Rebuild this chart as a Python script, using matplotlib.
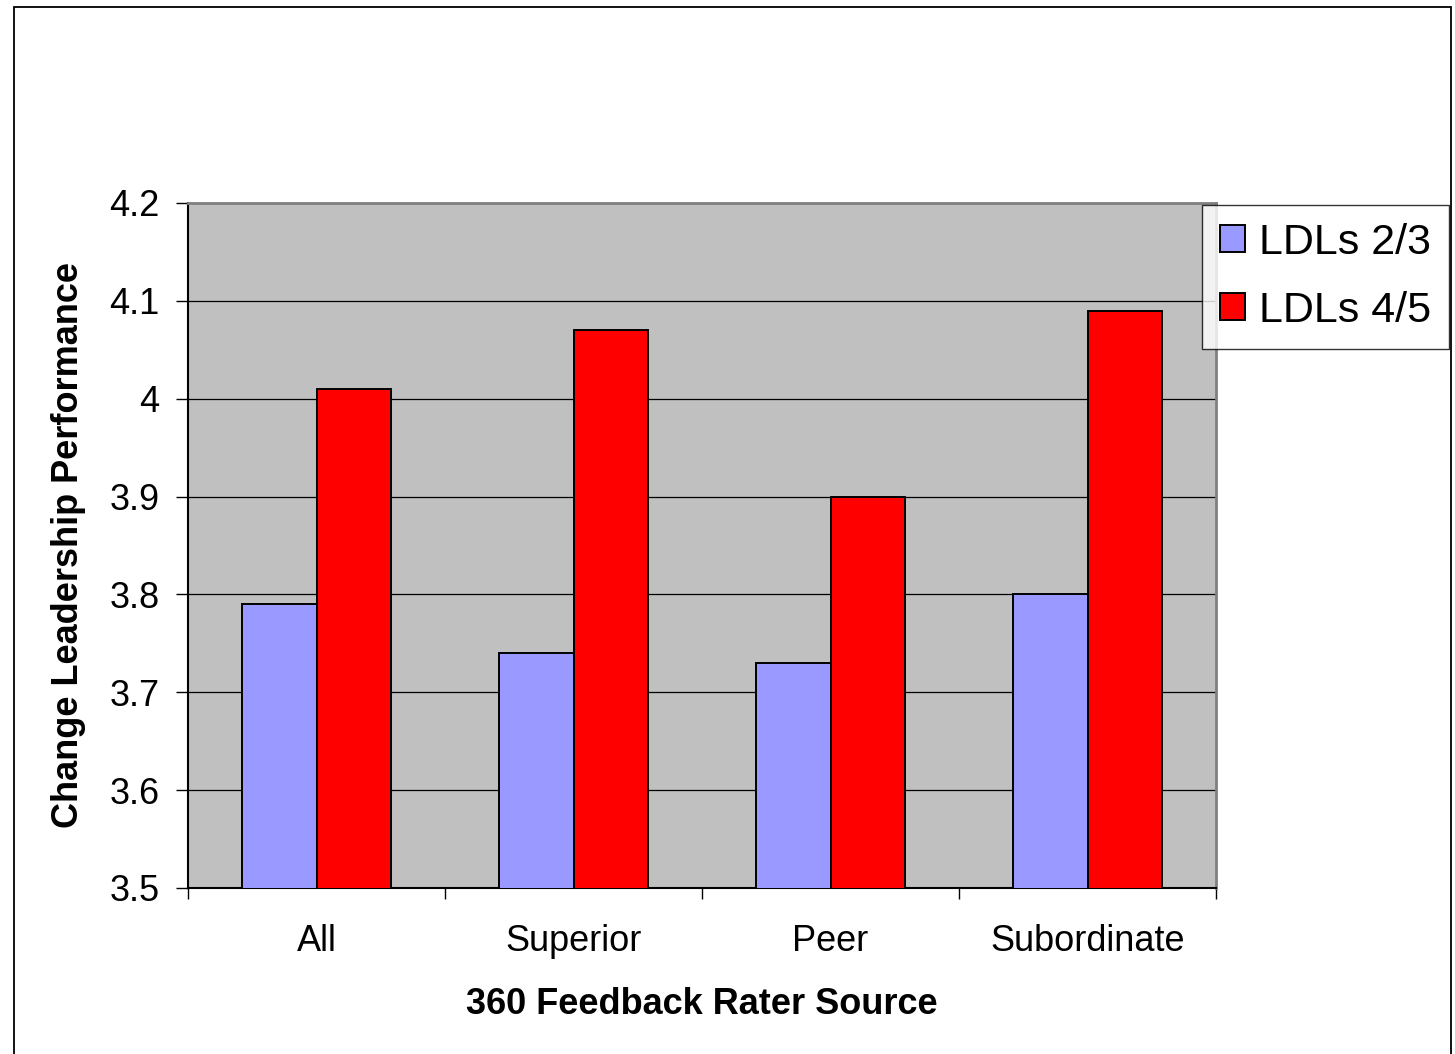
import matplotlib
matplotlib.use("Agg")
import matplotlib.pyplot as plt
from matplotlib.patches import Rectangle
import numpy as np

plt.rcParams['font.family'] = ['Liberation Sans', 'DejaVu Sans']

categories = ["All", "Superior", "Peer", "Subordinate"]
series_names = ["LDLs 2/3", "LDLs 4/5"]
ldl_23 = [3.79, 3.74, 3.73, 3.80]
ldl_45 = [4.01, 4.07, 3.90, 4.09]
y_ticks = [3.5, 3.6, 3.7, 3.8, 3.9, 4.0, 4.1, 4.2]
y_tick_labels = ["3.5", "3.6", "3.7", "3.8", "3.9", "4", "4.1", "4.2"]

W, H = 1455, 1054
fig = plt.figure(figsize=(W / 100, H / 100), dpi=100)
fig.patch.set_facecolor("white")

# outer chart-area border (runs off the bottom edge)
fig.add_artist(Rectangle((14 / W, -0.02), (1451 - 14) / W, 1 - 7 / H + 0.02,
                         transform=fig.transFigure, fill=False,
                         edgecolor="black", linewidth=1.3, clip_on=False))

ax = fig.add_axes([188 / W, (H - 888) / H, (1216 - 188) / W, (888 - 203) / H])
ax.set_facecolor("#C0C0C0")

x = np.arange(len(categories))
bw = 0.29
ax.bar(x - bw / 2, ldl_23, bw, bottom=0, color="#9999FF", edgecolor="black",
       linewidth=1.4, label=series_names[0], zorder=3)
ax.bar(x + bw / 2, ldl_45, bw, bottom=0, color="#FF0000", edgecolor="black",
       linewidth=1.4, label=series_names[1], zorder=3)

ax.set_xlim(-0.5, len(categories) - 0.5)
ax.set_ylim(3.5, 4.2)
ax.set_yticks(y_ticks)
ax.set_yticklabels(y_tick_labels)
ax.yaxis.grid(True, color="black", linewidth=0.9, zorder=1)
ax.set_axisbelow(True)

ax.set_xticks(x)
ax.set_xticklabels(categories)
ax.set_xticks(np.arange(-0.5, len(categories), 1.0), minor=True)
ax.tick_params(axis="x", which="major", length=0, pad=26, labelsize=26)
ax.tick_params(axis="x", which="minor", length=8, width=1, direction="out")
ax.tick_params(axis="y", which="major", length=8.5, width=1, direction="out",
               pad=12, labelsize=26)

for side in ("top", "right"):
    ax.spines[side].set_color("#808080")
    ax.spines[side].set_linewidth(2)
for side in ("left", "bottom"):
    ax.spines[side].set_color("black")
    ax.spines[side].set_linewidth(1.5)

ax.set_ylabel("Change Leadership Performance", fontsize=26, fontweight="bold",
              labelpad=17)
ax.set_xlabel("360 Feedback Rater Source", fontsize=26, fontweight="bold",
              labelpad=20)

leg = fig.legend(loc="upper left", bbox_to_anchor=(1202 / W, 1 - 205 / H),
                 fontsize=31, frameon=True, fancybox=False, edgecolor="black",
                 handlelength=0.58, handleheight=0.58, handletextpad=0.32,
                 labelspacing=0.65, borderpad=0.42, borderaxespad=0)
leg.get_frame().set_linewidth(1)

fig.savefig("out.png", dpi=100)
